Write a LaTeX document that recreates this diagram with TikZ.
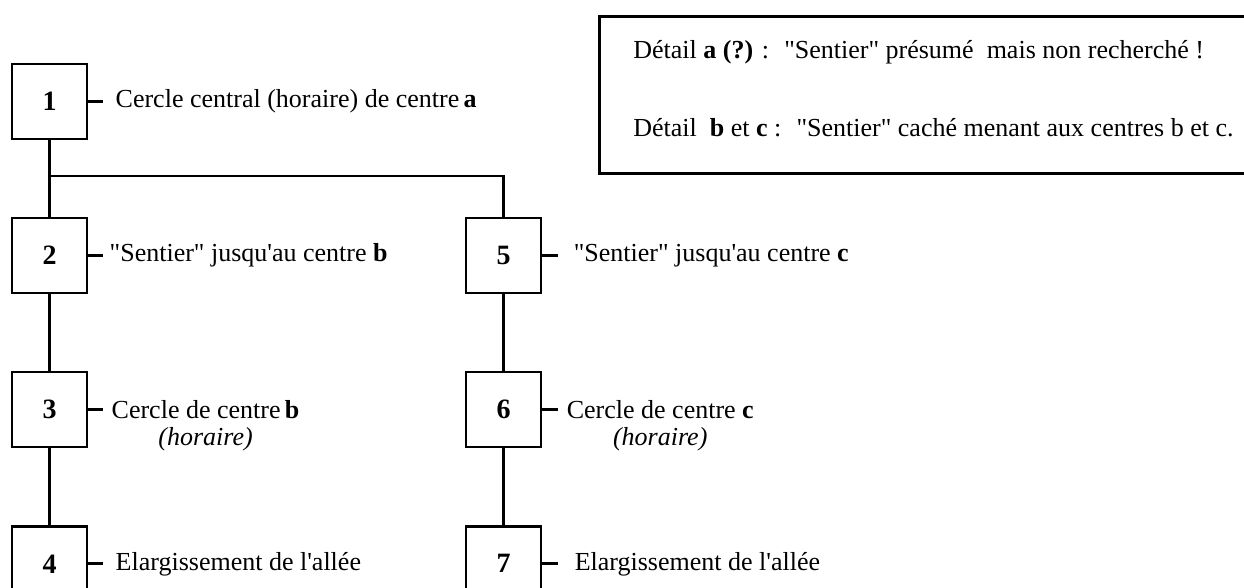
\documentclass[tikz,border=0pt]{standalone}
\usepackage{fontspec}
\setmainfont{Liberation Serif}
\usetikzlibrary{positioning}
\newcommand{\apos}{\textquotesingle}
\newcommand{\dq}{\textquotedbl}

\begin{document}
\begin{tikzpicture}[
      x=0.5pt, y=-0.5pt,
      node distance=38.25pt and 4pt,
      stepbox/.style={rectangle, draw, line width=1.3pt,
                    minimum width=37.5pt, minimum height=37.5pt, inner sep=0pt,
                    font=\fontsize{14}{16}\selectfont\bfseries},
      stepnote/.style={inner sep=0pt, font=\fontsize{13}{16}\selectfont},
      stepitalic/.style={inner sep=0pt, font=\fontsize{13}{16}\selectfont\itshape},
      notebox/.style={rectangle, draw, line width=1.3pt, anchor=north west,
                    minimum width=340pt, minimum height=78.5pt},
      link/.style={line width=1.3pt}
    ]
        \useasboundingbox (0,0) rectangle (1244,588);
        \clip (0,0) rectangle (1244,588);
        % left column
        \node[stepbox] (n1) at (49.5,101.5) {1};
        \node[stepbox, below=of n1] (n2) {2};
        \node[stepbox, below=of n2] (n3) {3};
        \node[stepbox, below=of n3] (n4) {4};
        % right column
        \node[stepbox, right=188.25pt of n2] (n5) {5};
        \node[stepbox, below=of n5] (n6) {6};
        \node[stepbox, below=of n6] (n7) {7};
        % ticks and texts
        \coordinate[right=7.5pt of n1.east] (t1);
        \coordinate[right=7.5pt of n2.east] (t2);
        \coordinate[right=7.5pt of n3.east] (t3);
        \coordinate[right=7.5pt of n4.east] (t4);
        \coordinate[right=8pt of n5.east] (t5);
        \coordinate[right=8pt of n6.east] (t6);
        \coordinate[right=8pt of n7.east] (t7);
        \node[stepnote, right=6pt of t1] (l1) {Cercle central (horaire) de centre\,\textbf{a}};
        \node[stepnote, right=3pt of t2] (l2) {\dq Sentier\dq\ jusqu\apos au centre \textbf{b}};
        \node[stepnote, right=4pt of t3] (l3) {Cercle de centre\,\textbf{b}};
        \node[stepitalic, below=4pt of l3] (h3) {(horaire)};
        \node[stepnote, right=6pt of t4] (l4) {Elargissement de l\apos allée};
        \node[stepnote, right=7.5pt of t5] (l5) {\dq Sentier\dq\ jusqu\apos au centre \textbf{c}};
        \node[stepnote, right=4pt of t6] (l6) {Cercle de centre \textbf{c}};
        \node[stepitalic, below=4pt of l6] (h6) {(horaire)};
        \node[stepnote, right=8pt of t7] (l7) {Elargissement de l\apos allée};
        % note box
        \node[notebox] (note) at (598,15) {};
        \node[stepnote, anchor=north west, below right=12.5pt and 17.5pt of note.north west] (d1)
            {Détail \textbf{a (?)} :~ \dq Sentier\dq\ présumé~ mais non recherché !};
        \node[stepnote, anchor=north west, below right=51.5pt and 17.5pt of note.north west] (d2)
            {Détail~ \textbf{b} et \textbf{c} :~ \dq Sentier\dq\ caché menant aux centres b et c.};
        % connectors
        \coordinate (split) at (n1 |- 0,176);
        \draw[link] (n1) -- (split) -- (n2);
        \draw[link] (split) -| (n5);
        \draw[link] (n2) -- (n3);
        \draw[link] (n3) -- (n4);
        \draw[link] (n5) -- (n6);
        \draw[link] (n6) -- (n7);
        \draw[link] (n1.east) -- (t1);
        \draw[link] (n2.east) -- (t2);
        \draw[link] (n3.east) -- (t3);
        \draw[link] (n4.east) -- (t4);
        \draw[link] (n5.east) -- (t5);
        \draw[link] (n6.east) -- (t6);
        \draw[link] (n7.east) -- (t7);
    \end{tikzpicture}
\end{document}
